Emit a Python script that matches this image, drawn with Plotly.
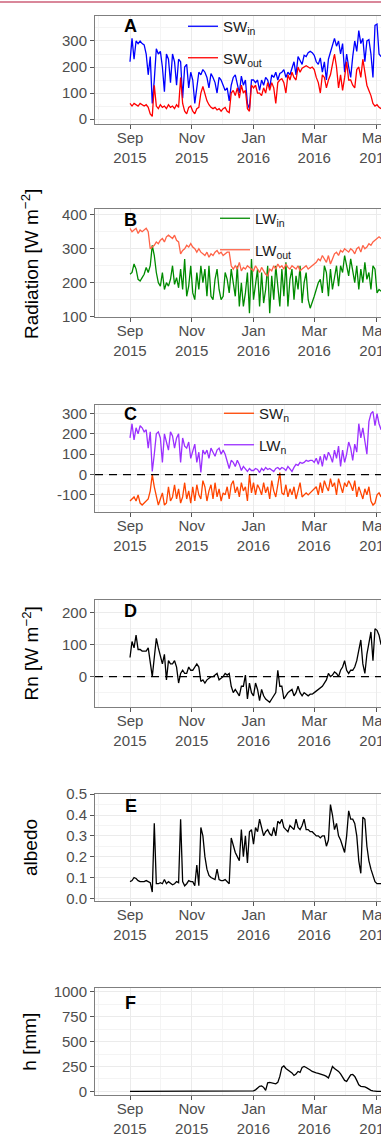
import pandas as pd
import plotly.graph_objects as go

# Daily-ish record, sampled every second day from 1 Sep 2015
dates = pd.date_range("2015-09-01", periods=125, freq="2D")

sw_in = [220, 310, 230, 300, 290, 300, 290, 285, 250, 170,
         240, 60, 150, 270, 250, 260, 200, 105, 250, 230,
         140, 250, 220, 130, 230, 220, 80, 200, 210, 120,
         180, 150, 60, 130, 180, 170, 190, 180, 160, 120,
         175, 160, 140, 100, 160, 150, 130, 110, 120, 70,
         130, 160, 170, 140, 100, 165, 130, 150, 60, 40,
         150, 150, 140, 150, 110, 150, 130, 160, 150, 120,
         170, 160, 180, 150, 175, 180, 190, 160, 180, 170,
         200, 220, 170, 240, 225, 210, 245, 240, 255, 260,
         255, 245, 220, 210, 235, 180, 220, 150, 230, 260,
         290, 310, 280, 300, 250, 290, 180, 250, 200, 160,
         240, 300, 260, 340, 290, 310, 220, 300, 305, 250,
         160, 360, 365, 250, 240]

sw_out = [60, 50, 60, 55, 50, 60, 55, 50, 55, 45,
          20, 10, 130, 50, 40, 55, 45, 50, 40, 55,
          45, 50, 40, 55, 45, 160, 60, 30, 20, 45,
          50, 30, 20, 40, 45, 100, 125, 100, 70, 55,
          45, 40, 45, 35, 40, 30, 40, 45, 30, 25,
          100, 110, 90, 120, 80, 130, 100, 110, 40, 30,
          130, 120, 130, 100, 100, 90, 120, 100, 140, 110,
          140, 120, 60, 140, 150, 155, 140, 100, 170, 150,
          180, 160, 150, 200, 180, 195, 200, 205, 200, 195,
          200, 190, 160, 140, 100, 170, 160, 120, 150, 170,
          210, 250, 200, 120, 170, 110, 160, 220, 150, 150,
          130, 120, 190, 200, 160, 230, 180, 130, 110, 90,
          60, 50, 55, 45, 40]

lw_in = [225, 230, 255, 240, 210, 205, 215, 225, 245, 230,
         250, 310, 280, 230, 200, 190, 230, 180, 200, 190,
         210, 250, 195, 215, 185, 240, 180, 270, 160, 190,
         250, 170, 150, 230, 180, 250, 200, 240, 160, 250,
         160, 150, 210, 240, 180, 150, 160, 230, 210, 170,
         240, 200, 160, 250, 130, 200, 130, 170, 230, 110,
         270, 150, 200, 240, 130, 230, 140, 180, 250, 110,
         220, 150, 250, 180, 130, 240, 160, 260, 130, 210,
         240, 150, 220, 180, 250, 140, 200, 230, 150, 125,
         140, 160, 180, 200, 210, 170, 250, 230, 160, 240,
         180, 220, 250, 190, 250, 230, 280, 250, 220, 270,
         240, 200, 250, 180, 240, 200, 260, 210, 230, 180,
         250, 240, 170, 180, 175]

lw_out = [360, 350, 355, 360, 345, 355, 350, 355, 360, 350,
          300, 305, 310, 320, 315, 325, 330, 320, 335, 340,
          335, 330, 340, 325, 320, 285, 295, 300, 310, 305,
          315, 305, 300, 290, 300, 290, 285, 280, 290, 275,
          285, 280, 290, 295, 285, 290, 280, 285, 290, 290,
          250, 240, 250, 240, 260, 235, 245, 240, 250, 245,
          240, 235, 250, 240, 230, 245, 235, 225, 220, 240,
          235, 250, 240, 255, 245, 250, 240, 255, 245, 240,
          250, 245, 240, 250, 235, 240, 245, 250, 240, 245,
          250, 255, 260, 270, 265, 280, 270, 260, 280, 255,
          270, 285, 290, 280, 295, 290, 300, 295, 290, 300,
          295, 285, 300, 305, 290, 310, 300, 305, 315, 310,
          320, 325, 330, 335, 330]

net_orange = [-130, -120, -110, -130, -100, -140, -150, -140, -130, -120,
              -80, 0, -60, -100, -150, -120, -90, -150, -140, -60,
              -130, -110, -50, -120, -70, -140, -110, -40, -120, -80,
              -140, -60, -130, -50, -100, -120, -30, -60, -130, -80,
              -50, -120, -40, -110, -70, -130, -90, -100, -60, -120,
              -50, -30, -90, -60, -110, -40, -80, -60, -130, 0,
              -90, -40, -100, -50, -70, -100, -40, -90, -60, -120,
              -30, -80, -110, -50, 10, -90, -100, -50, -110, -70,
              -100, -60, -120, -80, -40, -110, -100, -90, -100, -90,
              -80, -70, -60, -100, -40, -90, -30, -60, -80, -20,
              -60, -40, -100, -20, -50, -90, -40, -60, -30, -50,
              -80, -30, -110, -60, -90, -120, -70, -100, -60, -130,
              -150, -140, -100, -90, -110]

net_purple = [180, 250, 170, 230, 200, 240, 230, 210, 220, 130,
              210, 15, 100, 200, 210, 180, 60, 200, 160, 120,
              210, 190, 130, 180, 200, 60, 180, 140, 130, 160,
              80, 120, 150, 60, 110, 10, 120, 100, 120, 80,
              130, 110, 90, 120, 130, 100, 120, 100, 70, 30,
              70, 60, 40, 70, 50, 20, 40, 30, 15, 30,
              20, 20, 30, 25, 10, 30, 20, 35, 25, 30,
              20, 15, 30, 35, 25, 35, 30, 20, 40, 30,
              15, 35, 50, 45, 60, 55, 60, 70, 65, 70,
              70, 60, 80, 50, 90, 40, 100, 70, 110, 90,
              60, 120, 80, 140, 40, 120, 60, 100, 160, 130,
              70, 150, 110, 250, 180, 230, 150, 100, 260, 300,
              310, 240, 300, 250, 220]

rn = [60, 110, 90, 130, 85, 85, 80, 80, 80, 90,
      40, 0, 60, 120, 90, 60, 40, 70, -10, 50,
      40, 40, 50, 30, -20, 10, 20, 10, 10, 30,
      20, 20, 30, 40, 30, -15, -10, -20, -10, -5,
      0, 0, 5, 10, -10, -5, 0, 10, 5, 10,
      -30, -50, -40, -50, -60, -30, -30, 5, -70, -20,
      -50, -60, -20, -40, -75, -40, -60, -70, -75, -80,
      -70, -60, -50, 20, -30, -30, -70, -60, -50, -45,
      -40, -60, -50, -30, -50, -60, -50, -55, -60, -55,
      -55, -50, -45, -40, -35, -30, -20, -10, 10, 0,
      5, 15, 10, 0, 20, 30, 50, 20, 10, 20,
      20, 30, 50, 80, 115, 40, 10, 70, 100, 140,
      50, 150, 145, 130, 100]

albedo = [0.08, 0.085, 0.1, 0.095, 0.085, 0.08, 0.08, 0.08, 0.085, 0.08,
          0.075, 0.03, 0.36, 0.07, 0.07, 0.075, 0.07, 0.09, 0.07, 0.08,
          0.07, 0.065, 0.07, 0.08, 0.075, 0.38, 0.08, 0.06, 0.07, 0.085,
          0.08, 0.08, 0.06, 0.16, 0.06, 0.34, 0.3, 0.2, 0.14, 0.11,
          0.1, 0.095, 0.09, 0.14, 0.09, 0.085, 0.085, 0.09, 0.08, 0.07,
          0.29, 0.25, 0.22, 0.2, 0.18, 0.33, 0.2, 0.3, 0.17, 0.32,
          0.33, 0.26, 0.34, 0.32, 0.38, 0.34, 0.3, 0.32, 0.33, 0.31,
          0.3, 0.34, 0.3, 0.37, 0.36, 0.38, 0.34, 0.33, 0.32, 0.35,
          0.34, 0.33, 0.38, 0.34, 0.33, 0.35, 0.38, 0.33, 0.33, 0.32,
          0.32, 0.31, 0.3, 0.3, 0.29, 0.3, 0.3, 0.25, 0.28, 0.45,
          0.4, 0.33, 0.36, 0.3, 0.28, 0.25, 0.22, 0.3, 0.42, 0.38,
          0.38, 0.36, 0.3, 0.18, 0.12, 0.39, 0.38, 0.25, 0.18, 0.14,
          0.11, 0.08, 0.07, 0.07, 0.07]

snow_h = [0, 0, 0, 0, 0, 0, 0, 0, 0, 0,
          0, 3, 0, 0, 0, 0, 0, 0, 0, 0,
          0, 0, 0, 0, 0, 0, 0, 0, 0, 0,
          0, 0, 0, 0, 0, 0, 0, 0, 0, 0,
          0, 0, 0, 0, 0, 0, 0, 0, 0, 0,
          0, 0, 0, 0, 0, 0, 0, 0, 3, 0,
          0, 5, 15, 30, 50, 55, 40, 10, 85, 90,
          85, 80, 75, 90, 150, 240, 255, 230, 215, 200,
          185, 160, 175, 200, 190, 240, 250, 240, 230, 215,
          200, 190, 185, 180, 175, 170, 160, 150, 135, 190,
          250, 230, 215, 200, 175, 140, 110, 100, 140, 165,
          170, 150, 110, 65, 50, 50, 45, 35, 20, 10,
          5, 0, 0, 0, 0]

# y-axis ticks and labels for each panel
y_ticks = [[0, 100, 200, 300], [100, 200, 300, 400], [-100, 0, 100, 200, 300],
           [0, 100, 200], [0, 0.1, 0.2, 0.3, 0.4, 0.5], [0, 250, 500, 750, 1000]]
y_labels = [["0", "100", "200", "300"], ["100", "200", "300", "400"],
            ["-100", "0", "100", "200", "300"], ["0", "100", "200"],
            ["0.0", "0.1", "0.2", "0.3", "0.4", "0.5"], ["0", "250", "500", "750", "1000"]]
y_minor = [50, 50, 50, 50, 0.05, 125]
y_ranges = [[-19, 396], [99, 417], [-184, 342], [-95, 240], [-0.013, 0.501], [-37, 1040]]
panel_letters = ["A", "B", "C", "D", "E", "F"]

W, H = 381, 1138
ML = 95                      # left margin in px
PW = W - ML                  # plot width in px
FONT = "Liberation Sans, Arial, sans-serif"
panels_px = [(16, 124), (209, 317), (405, 512), (600, 707), (794, 901), (988, 1095)]
letter_y_px = [26.5, 219.5, 414, 611, 806, 1003]
x_range = ["2015-07-28 10:20", "2016-05-05 22:30"]


def px_x(px):
    return (px - ML) / PW


def px_y(py):
    return 1 - py / H


fig = go.Figure()


def add_line(k, y, name, color, legend=None):
    fig.add_trace(go.Scatter(
        x=dates, y=y, mode="lines", name=name,
        line=dict(color=color, width=1.3),
        xaxis="x" if k == 1 else f"x{k}",
        yaxis="y" if k == 1 else f"y{k}",
        showlegend=legend is not None,
        legend=legend if legend else "legend",
        legendgroup=name, hoverinfo="skip"))


add_line(1, sw_in, "SW<sub>in</sub>", "#0000FF", "legend")
add_line(1, sw_out, "SW<sub>out</sub>", "#FF0000", "legend")
add_line(2, lw_in, "LW<sub>in</sub>", "#008B00", "legend2")
add_line(2, lw_out, "LW<sub>out</sub>", "#FF6347", "legend2")
add_line(3, net_orange, "SW<sub>n</sub>", "#FF4500", "legend3")
add_line(3, net_purple, "LW<sub>n</sub>", "#9B30FF", "legend3")
add_line(4, rn, "Rn", "#000000")
add_line(5, albedo, "albedo", "#000000")
add_line(6, snow_h, "h", "#000000")

layout = dict(
    width=W, height=H, margin=dict(l=ML, r=0, t=0, b=0, autoexpand=False),
    paper_bgcolor="white", plot_bgcolor="white",
    font=dict(family=FONT, size=15, color="#4D4D4D"),
)

for k, ((top, bot), rng) in enumerate(zip(panels_px, y_ranges), start=1):
    sx = "" if k == 1 else str(k)
    layout[f"xaxis{sx}"] = dict(
        domain=[0, 1], anchor=f"y{sx}", type="date", range=x_range,
        tick0="2015-09-01", dtick="M2", tickformat="%b<br>%Y",
        ticks="outside", ticklen=4, tickwidth=1, tickcolor="#555555",
        ticklabeloverflow="allow", ticklabelstandoff=-4, automargin=False,
        showline=True, linecolor="#7F7F7F", linewidth=1, mirror=True,
        showgrid=True, gridcolor="#EBEBEB", gridwidth=1,
        minor=dict(tick0="2015-08-01", dtick="M1", showgrid=True,
                   gridcolor="#F4F4F4", gridwidth=0.6),
        tickfont=dict(size=15, color="#4D4D4D"), zeroline=False,
    )
    layout[f"yaxis{sx}"] = dict(
        domain=[px_y(bot), px_y(top)], anchor=f"x{sx}", range=rng,
        tickmode="array", tickvals=y_ticks[k - 1], ticktext=y_labels[k - 1],
        ticks="outside", ticklen=4, tickwidth=1, tickcolor="#555555",
        automargin=False,
        showline=True, linecolor="#7F7F7F", linewidth=1, mirror=False,
        showgrid=True, gridcolor="#EBEBEB", gridwidth=1,
        minor=dict(dtick=y_minor[k - 1], tick0=0, showgrid=True,
                   gridcolor="#F4F4F4", gridwidth=0.6),
        tickfont=dict(size=15, color="#4D4D4D"), zeroline=False,
    )

# in-panel legends (left edge px, top px)
legend_px = [(183, 10), (215, 202), (219, 397)]
for name, (lx, ly) in zip(["legend", "legend2", "legend3"], legend_px):
    layout[name] = dict(
        x=px_x(lx), y=px_y(ly), xanchor="left", yanchor="top",
        bgcolor="rgba(0,0,0,0)", borderwidth=0, tracegroupgap=9,
        font=dict(family=FONT, size=15, color="#1A1A1A"),
    )

fig.update_layout(**layout)

# panel letters
for letter, ly in zip(panel_letters, letter_y_px):
    fig.add_annotation(text=f"<b>{letter}</b>", x=px_x(130.5), y=px_y(ly),
                       xref="paper", yref="paper", xanchor="center", yanchor="middle",
                       showarrow=False, font=dict(family=FONT, size=18, color="#000000"))

# y-axis titles
titles = [("Radiation [W m<sup>−2</sup>]", 264), ("Rn [W m<sup>−2</sup>]", 653.5),
          ("albedo", 848), ("h [mm]", 1041.7)]
for txt, ty in titles:
    fig.add_annotation(text=txt, x=px_x(30), y=px_y(ty), xref="paper", yref="paper",
                       xanchor="center", yanchor="middle", textangle=-90, showarrow=False,
                       font=dict(family=FONT, size=19, color="#000000"))

# dashed zero reference lines in the net-radiation panels
for k in (3, 4):
    fig.add_shape(type="line", xref=f"x{k} domain", x0=0, x1=1, yref=f"y{k}", y0=0, y1=0,
                  line=dict(color="#000000", width=1.2, dash="8px,6px"))

# thin rule along the top edge
fig.add_shape(type="line", xref="paper", yref="paper", x0=px_x(0), x1=1.0,
              y0=px_y(2), y1=px_y(2), line=dict(color="#D9879A", width=2))

fig.write_html("out.html")
